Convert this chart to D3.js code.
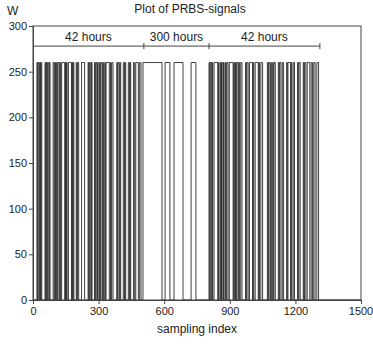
<!DOCTYPE html>
<html lang="en">
<head>
    <meta charset="UTF-8">
    <title>Plot of PRBS-signals</title>
    <script src="https://d3js.org/d3.v7.min.js"></script>
    <style>
        body { margin: 0; background: #fff; }
        text { font-family: "Liberation Sans", Arial, sans-serif; fill: #222; }
    </style>
</head>
<body>
    <script>
        // Switching indices of the PRBS signal (toggles between low and high, starts low)
        const switchIndex = [
            18, 21, 24, 29, 32, 34, 37, 40, 55, 58, 60, 63, 66, 72, 75, 78, 92, 97, 100, 103, 108, 111, 114,
            120, 123, 126, 131, 145, 148, 150, 153, 156, 162, 176, 179, 181, 184, 187, 198, 201, 204, 209, 222, 236,
            252, 255, 258, 264, 267, 270, 281, 284, 287, 292, 295, 298, 304, 307, 310, 316, 319, 322, 328, 331, 334, 349,
            354, 357, 360, 366, 383, 386, 389, 395, 398, 401, 413, 418, 421, 424, 436, 441, 444, 447, 460,
            465, 470, 482, 488, 494, 503,
            590, 604, 626, 645, 686, 723, 745,
            805, 808, 811, 817, 820, 822, 828, 845, 848, 851, 857, 860, 862, 868, 871, 874, 880, 883, 886, 892, 898,
            915, 918, 921, 926, 929, 932, 938, 941, 944, 950, 956, 972, 975, 978, 984, 990, 1004, 1007, 1010, 1016,
            1030, 1033, 1036, 1042, 1050, 1072, 1075, 1078, 1084, 1087, 1090, 1096, 1099, 1102, 1108, 1122, 1125, 1128, 1134, 1140,
            1146, 1160, 1163, 1166, 1178, 1181, 1184, 1190, 1196, 1210, 1213, 1216, 1222, 1236, 1239, 1242, 1248, 1254, 1266,
            1272, 1278, 1284, 1290, 1298, 1306
        ];
        const levels = [0, 260];          // W, low / high
        const xEnd = 1500;

        // Annotation of the test phases
        const phaseBounds = [0, 507, 805, 1312];
        const phaseLabels = ["42 hours", "300 hours", "42 hours"];
        const phaseLineY = 278;

        const xTicks = [0, 300, 600, 900, 1200, 1500];
        const yTicks = [0, 50, 100, 150, 200, 250, 300];

        const width = 373, height = 346;
        const margin = { top: 26, right: 12, bottom: 46, left: 33 };

        const svg = d3.select("body").append("svg")
            .attr("width", width)
            .attr("height", height);

        const x = d3.scaleLinear().domain([0, 1500]).range([margin.left, width - margin.right]);
        const y = d3.scaleLinear().domain([0, 300]).range([height - margin.bottom, margin.top]);

        // build the step points from the switch list
        const points = [[0, levels[0]]];
        let state = 0;
        switchIndex.forEach(i => {
            state = 1 - state;
            points.push([i, levels[state]]);
        });
        points.push([xEnd, levels[state]]);

        const line = d3.line()
            .x(d => x(d[0]))
            .y(d => y(d[1]))
            .curve(d3.curveStepAfter);

        svg.append("path")
            .datum(points)
            .attr("fill", "none")
            .attr("stroke", "#2a2a2a")
            .attr("stroke-width", 0.9)
            .attr("d", line);

        // frame
        svg.append("rect")
            .attr("x", x(0))
            .attr("y", y(300))
            .attr("width", x(1500) - x(0))
            .attr("height", y(0) - y(300))
            .attr("fill", "none")
            .attr("stroke", "#444")
            .attr("stroke-width", 1);

        // axes
        const xAxis = svg.append("g")
            .attr("transform", `translate(0,${y(0)})`)
            .call(d3.axisBottom(x).tickValues(xTicks).tickFormat(d3.format("d")).tickSize(4).tickPadding(3));
        const yAxis = svg.append("g")
            .attr("transform", `translate(${x(0)},0)`)
            .call(d3.axisLeft(y).tickValues(yTicks).tickFormat(d3.format("d")).tickSize(4).tickPadding(2));

        [xAxis, yAxis].forEach(g => {
            g.select(".domain").attr("stroke", "#444");
            g.selectAll(".tick line").attr("stroke", "#444");
            g.selectAll(".tick text")
                .attr("font-size", 11)
                .attr("font-family", "Liberation Sans, Arial, sans-serif")
                .attr("fill", "#222");
        });
        // keep the last x label inside the picture
        xAxis.selectAll(".tick text").filter(d => d === 1500).attr("dx", -0.5);

        // phase annotation
        svg.append("line")
            .attr("x1", x(phaseBounds[0]))
            .attr("x2", x(phaseBounds[phaseBounds.length - 1]))
            .attr("y1", y(phaseLineY))
            .attr("y2", y(phaseLineY))
            .attr("stroke", "#444");

        svg.selectAll(".phase-tick")
            .data(phaseBounds.slice(1))
            .enter().append("line")
            .attr("x1", d => x(d))
            .attr("x2", d => x(d))
            .attr("y1", y(phaseLineY) - 3)
            .attr("y2", y(phaseLineY) + 3)
            .attr("stroke", "#444");

        svg.selectAll(".phase-label")
            .data(phaseLabels)
            .enter().append("text")
            .attr("x", (d, i) => (x(phaseBounds[i]) + x(phaseBounds[i + 1])) / 2)
            .attr("y", y(phaseLineY) - 5)
            .attr("text-anchor", "middle")
            .attr("font-size", 12)
            .text(d => d);

        // titles
        svg.append("text")
            .attr("x", 190)
            .attr("y", 13)
            .attr("text-anchor", "middle")
            .attr("font-size", 12)
            .text("Plot of PRBS-signals");

        svg.append("text")
            .attr("x", 7)
            .attr("y", 15)
            .attr("font-size", 12)
            .text("W");

        svg.append("text")
            .attr("x", 197)
            .attr("y", 333)
            .attr("text-anchor", "middle")
            .attr("font-size", 12)
            .text("sampling index");
    </script>
</body>
</html>
